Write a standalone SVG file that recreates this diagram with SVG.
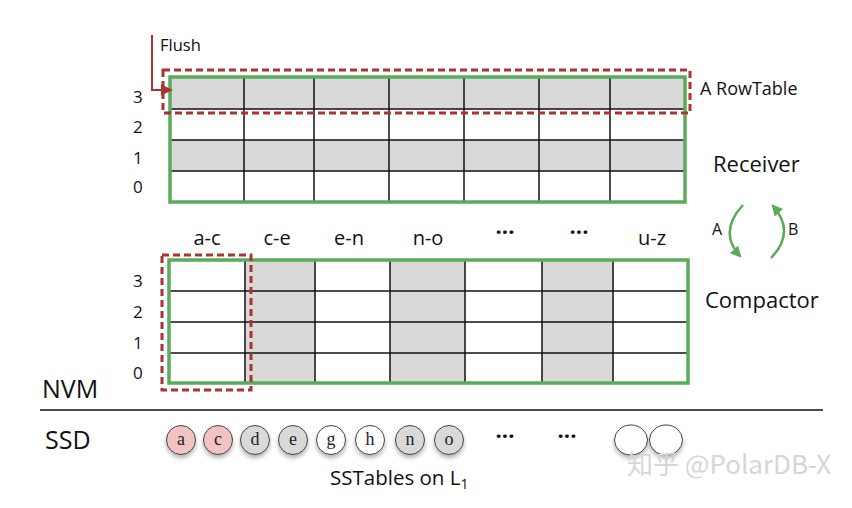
<svg xmlns="http://www.w3.org/2000/svg" width="852" height="508" viewBox="0 0 852 508">
<style>
.t{font-family:"Open Sans","Noto Sans",sans-serif;fill:#111}
.lbl{font-size:17px}
.col{font-size:20px;text-anchor:middle}
.dots{font-size:22px;font-weight:700;text-anchor:middle}
.big{font-size:22px}
.grn{fill:none;stroke:#5aab5a;stroke-width:3.5}
.gl{stroke:#111;stroke-width:1.5}
.gry{fill:#d9d9d9}
.red{fill:none;stroke:#a93232;stroke-width:3;stroke-dasharray:7 4}
.cir{stroke:#444;stroke-width:1;filter:url(#sh)}
.ct{font-family:"Liberation Serif","DejaVu Serif",serif;font-size:18px;text-anchor:middle;fill:#222}
.arc{fill:none;stroke:#5aab5a;stroke-width:2.5}
</style>
<defs>
<filter id="sh" x="-30%" y="-30%" width="160%" height="170%"><feDropShadow dx="0" dy="3" stdDeviation="2" flood-color="#000" flood-opacity="0.3"/></filter>
<marker id="ga" viewBox="0 0 10 10" refX="8" refY="5" markerWidth="4.5" markerHeight="4.5" orient="auto"><path d="M0,0 L10,5 L0,10 z" fill="#5aab5a"/></marker>
</defs>

<g id="receiver">
<rect x="170" y="77" width="515" height="32" class="gry"/>
<rect x="170" y="140" width="515" height="31" class="gry"/>
<g class="gl">
<line x1="170" y1="109" x2="685" y2="109"/><line x1="170" y1="140" x2="685" y2="140"/><line x1="170" y1="171" x2="685" y2="171"/>
<line x1="244" y1="77" x2="244" y2="202"/><line x1="314" y1="77" x2="314" y2="202"/><line x1="389" y1="77" x2="389" y2="202"/><line x1="464" y1="77" x2="464" y2="202"/><line x1="539" y1="77" x2="539" y2="202"/><line x1="610" y1="77" x2="610" y2="202"/>
</g>
<rect x="170" y="77" width="515" height="125" class="grn"/>
<text class="t lbl" x="133" y="103">3</text><text class="t lbl" x="133" y="133">2</text><text class="t lbl" x="133" y="164">1</text><text class="t lbl" x="133" y="193">0</text>
<text class="t big" x="713" y="172">Receiver</text>
</g>

<g id="rowtable">
<rect x="163" y="70" width="527" height="43" class="red"/>
<text class="t" x="700" y="95" font-size="18">A RowTable</text>
</g>

<g id="compactor">
<rect x="245" y="260" width="70" height="123" class="gry"/>
<rect x="390" y="260" width="75" height="123" class="gry"/>
<rect x="542" y="260" width="71" height="123" class="gry"/>
<g class="gl">
<line x1="169" y1="291" x2="688" y2="291"/><line x1="169" y1="322" x2="688" y2="322"/><line x1="169" y1="353" x2="688" y2="353"/>
<line x1="245" y1="260" x2="245" y2="383"/><line x1="315" y1="260" x2="315" y2="383"/><line x1="390" y1="260" x2="390" y2="383"/><line x1="465" y1="260" x2="465" y2="383"/><line x1="542" y1="260" x2="542" y2="383"/><line x1="613" y1="260" x2="613" y2="383"/>
</g>
<rect x="169" y="260" width="519" height="123" class="grn"/>
<rect x="162" y="255" width="89" height="135" class="red"/>
<text class="t lbl" x="133" y="287">3</text><text class="t lbl" x="133" y="318">2</text><text class="t lbl" x="133" y="349">1</text><text class="t lbl" x="133" y="379">0</text>
<text class="t col" x="207" y="245">a-c</text><text class="t col" x="277" y="245">c-e</text><text class="t col" x="349" y="245">e-n</text><text class="t col" x="428" y="245">n-o</text><text class="t dots" x="505" y="240">···</text><text class="t dots" x="579" y="240">···</text><text class="t col" x="652" y="245">u-z</text>
<text class="t big" x="705" y="308">Compactor</text>
</g>

<g id="flush">
<polyline points="152,35 152,90 163,90" fill="none" stroke="#a93232" stroke-width="2"/>
<polygon points="161,84.5 173,90 161,95.5" fill="#a93232"/>
<text class="t" x="160" y="51" font-size="16.5">Flush</text>
</g>

<g id="connectors">
<path d="M743,205 Q718,232 740,256" class="arc" marker-end="url(#ga)"/>
<path d="M771,258 Q796,232 773,206" class="arc" marker-end="url(#ga)"/>
<text class="t" x="712" y="235" font-size="16">A</text>
<text class="t" x="788" y="235" font-size="16">B</text>
</g>

<g id="storage">
<text class="t" x="42" y="398" font-size="25">NVM</text>
<line x1="40" y1="410" x2="823" y2="410" stroke="#111" stroke-width="1.5"/>
<text class="t" x="45" y="449" font-size="25">SSD</text>
</g>

<g id="sstables">
<ellipse cx="181" cy="440" rx="14.5" ry="14.5" class="cir" fill="#f3c3c3"/><text class="ct" x="181" y="445">a</text>
<ellipse cx="218" cy="440" rx="14.5" ry="14.5" class="cir" fill="#f3c3c3"/><text class="ct" x="218" y="445">c</text>
<ellipse cx="255" cy="440" rx="14.5" ry="14.5" class="cir" fill="#d9d9d9"/><text class="ct" x="255" y="445">d</text>
<ellipse cx="293" cy="440" rx="14.5" ry="14.5" class="cir" fill="#d9d9d9"/><text class="ct" x="293" y="445">e</text>
<ellipse cx="331" cy="440" rx="14.5" ry="14.5" class="cir" fill="#fff"/><text class="ct" x="331" y="445">g</text>
<ellipse cx="370" cy="440" rx="14.5" ry="14.5" class="cir" fill="#fff"/><text class="ct" x="370" y="445">h</text>
<ellipse cx="410" cy="440" rx="14.5" ry="14.5" class="cir" fill="#d9d9d9"/><text class="ct" x="410" y="445">n</text>
<ellipse cx="449" cy="440" rx="14.5" ry="14.5" class="cir" fill="#d9d9d9"/><text class="ct" x="449" y="445">o</text>
<text class="t dots" x="505" y="444">···</text><text class="t dots" x="567" y="444">···</text>
<ellipse cx="631" cy="440" rx="16.5" ry="15" class="cir" fill="#fff"/>
<ellipse cx="666" cy="440" rx="16.5" ry="15" class="cir" fill="#fff"/>
<text class="t" x="330" y="485" font-size="20.5">SSTables on L<tspan font-size="14" dy="4">1</tspan></text>
</g>

<text x="627" y="474" font-family="'Noto Sans CJK SC','Noto Sans',sans-serif" font-size="26" fill="#d6d6d6">知乎 @PolarDB-X</text>
</svg>
